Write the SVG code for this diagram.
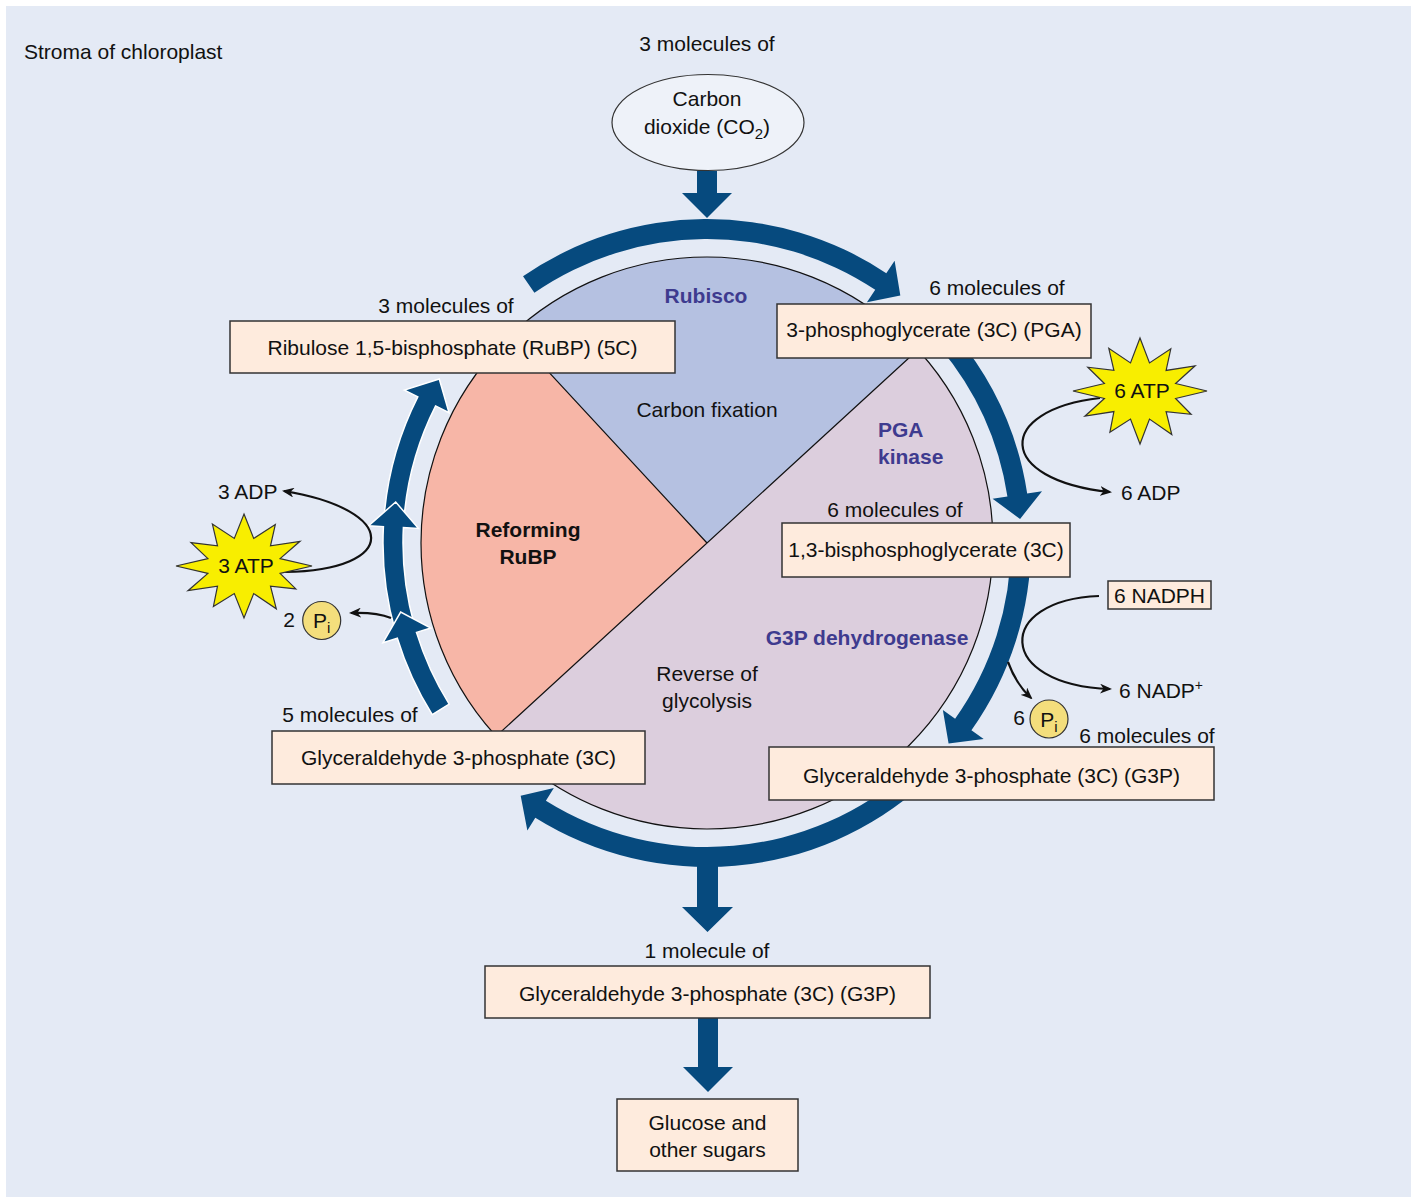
<svg xmlns="http://www.w3.org/2000/svg" width="1411" height="1197" viewBox="0 0 1411 1197">
<defs>
<style>
text{font-family:"Liberation Sans",Arial,Helvetica,sans-serif;font-size:21px;fill:#111}
.m{text-anchor:middle}
.b{font-weight:bold}
.enz{font-weight:bold;fill:#3e3b8f}
.box{fill:#feebdd;stroke:#333;stroke-width:1.5}
.big{fill:#064a7e}
.bigw{fill:#064a7e;stroke:#fff;stroke-width:1.5;stroke-linejoin:miter}
.thin{fill:none;stroke:#111;stroke-width:2.2}
.star{fill:#f8ee00;stroke:#333;stroke-width:1.2;stroke-linejoin:miter}
.pi{fill:#f4de7c;stroke:#333;stroke-width:1.2}
.edge{fill:none;stroke:#111;stroke-width:1.2}
</style>
<marker id="ah" markerUnits="userSpaceOnUse" markerWidth="12" markerHeight="10" refX="10" refY="5" orient="auto">
<path d="M0,0 L12,5 L0,10 L3.5,5 Z" fill="#111"/>
</marker>
</defs>

<rect id="background" x="6" y="6" width="1405" height="1191" fill="#e4eaf5"/>
<text id="stroma" x="24" y="59">Stroma of chloroplast</text>

<g id="cycle-circle">
<circle cx="707" cy="543" r="286" fill="#dccedd"/>
<path d="M707,543 L496.14,736.22 A286,286 0 0 1 512.68,333.15 Z" fill="#f7b6a7"/>
<path d="M707,543 L512.68,333.15 A286,286 0 0 1 917.86,349.78 Z" fill="#b5c1e1"/>
<circle class="edge" cx="707" cy="543" r="286"/>
<path class="edge" d="M917.86,349.78 L496.14,736.22 M707,543 L512.68,333.15"/>
</g>

<g id="connectors">
<path class="big" d="M697,171 L717,171 L717,193 L732,193 L707,218 L682,193 L697,193 Z"/>
<path class="big" d="M523.03,276.32 A324,324 0 0 1 886.30,273.14 L894.60,260.65 L900.32,295.57 L866.93,302.29 L875.23,289.80 A304,304 0 0 0 534.39,292.78 Z"/>
<path class="big" d="M955.19,334.73 A324,324 0 0 1 1027.19,493.43 L1042.01,491.14 L1020.07,518.91 L992.60,498.79 L1007.42,496.49 A304,304 0 0 0 939.88,347.59 Z"/>
<path class="big" d="M1031,543 A324,324 0 0 1 971.43,730.23 L983.67,738.89 L948.59,743.57 L942.86,710.00 L955.11,718.67 A304,304 0 0 0 1011,543 Z"/>
<path class="big" d="M923.80,783.78 A324,324 0 0 1 535.31,817.77 L527.36,830.49 L520.67,795.74 L553.85,788.09 L545.90,800.81 A304,304 0 0 0 910.42,768.91 Z"/>
<path class="big" d="M697,855 L718,855 L718,907 L733,907 L707.5,932 L682,907 L697,907 Z"/>
<path class="bigw" d="M383.79,520.40 A324,324 0 0 1 417.80,396.91 L404.41,390.15 L439.27,378.93 L449.04,412.70 L435.65,405.93 A304,304 0 0 0 403.74,521.79 Z"/>
<path class="bigw" d="M395.55,632.31 A324,324 0 0 1 383.41,526.61 L368.43,525.85 L395.69,502.01 L418.37,528.38 L403.39,527.62 A304,304 0 0 0 414.78,626.79 Z"/>
<path class="bigw" d="M432.23,714.69 A324,324 0 0 1 397.32,638.27 L382.99,642.68 L400.68,612.03 L430.78,627.98 L416.44,632.39 A304,304 0 0 0 449.19,704.10 Z"/>
<path class="big" d="M698,1018 L718,1018 L718,1067 L733,1067 L708,1092 L683,1067 L698,1067 Z"/>
<path class="thin" d="M1100,398 C995,410 995,480 1110,492" marker-end="url(#ah)"/>
<path class="thin" d="M1099,596 C995,600 995,685 1110,689" marker-end="url(#ah)"/>
<path class="thin" d="M1008,662 Q1016,684 1031,698" marker-end="url(#ah)"/>
<path class="thin" d="M285,572 C400,570 400,510 284,491" marker-end="url(#ah)"/>
<path class="thin" d="M391,618 Q376,612 351,613" marker-end="url(#ah)"/>
</g>

<g id="co2">
<text class="m" x="707" y="51">3 molecules of</text>
<ellipse cx="708" cy="122.5" rx="96" ry="48" fill="#eef2f9" stroke="#333" stroke-width="1.2"/>
<text class="m" x="707" y="106">Carbon</text>
<text class="m" x="707" y="134">dioxide (CO<tspan font-size="15" dy="5">2</tspan><tspan dy="-5">)</tspan></text>
</g>

<g id="labels-circle">
<text class="m enz" x="706" y="303">Rubisco</text>
<text class="m" x="707" y="417">Carbon fixation</text>
<text class="enz" x="878" y="437">PGA</text>
<text class="enz" x="878" y="464">kinase</text>
<text class="m b" x="528" y="537">Reforming</text>
<text class="m b" x="528" y="564">RuBP</text>
<text class="m enz" x="867" y="645">G3P dehydrogenase</text>
<text class="m" x="707" y="681">Reverse of</text>
<text class="m" x="707" y="708">glycolysis</text>
</g>

<g id="rubp">
<text class="m" x="446" y="313">3 molecules of</text>
<rect class="box" x="230" y="321" width="445" height="52"/>
<text class="m" x="452.5" y="355">Ribulose 1,5-bisphosphate (RuBP) (5C)</text>
</g>

<g id="pga">
<text class="m" x="997" y="295">6 molecules of</text>
<rect class="box" x="777" y="304" width="314" height="54"/>
<text class="m" x="934" y="337">3-phosphoglycerate (3C) (PGA)</text>
</g>

<g id="atp6">
<polygon class="star" points="1140,338 1149.5,362.9 1170.8,348.8 1166.1,370.4 1195.1,365.8 1175.6,383.5 1207,391 1175.6,398.5 1191.1,414.3 1166.1,411.6 1171.8,434.6 1149.5,419.1 1140,444 1130.5,419.1 1109.9,432.3 1113.9,411.6 1084.9,416.2 1104.4,398.5 1073,391 1104.4,383.5 1087.8,367.2 1113.9,370.4 1108.8,348.3 1130.5,362.9"/>
<text class="m" x="1142" y="398">6 ATP</text>
</g>
<text id="adp6" x="1121" y="500">6 ADP</text>

<g id="bpg">
<text class="m" x="895" y="517">6 molecules of</text>
<rect class="box" x="782" y="523" width="288" height="54"/>
<text class="m" x="926" y="557">1,3-bisphosphoglycerate (3C)</text>
</g>

<g id="nadph">
<rect class="box" x="1108" y="581" width="103" height="28"/>
<text class="m" x="1159.5" y="603">6 NADPH</text>
</g>
<text id="nadp6" x="1119" y="698">6 NADP<tspan font-size="14" dy="-8">+</tspan></text>

<g id="pi6">
<text class="m" x="1019" y="725">6</text>
<circle class="pi" cx="1049" cy="719" r="19"/>
<text class="m" x="1049" y="727">P<tspan font-size="15" dy="5">i</tspan></text>
</g>

<g id="g3p6">
<text class="m" x="1147" y="743">6 molecules of</text>
<rect class="box" x="769" y="747" width="445" height="53"/>
<text class="m" x="991.5" y="783">Glyceraldehyde 3-phosphate (3C) (G3P)</text>
</g>

<g id="atp3">
<polygon class="star" points="244,514 253.7,538.4 275.3,524.6 270.5,545.8 300,541.3 280.1,558.6 312,566 280.1,573.4 295.8,588.9 270.5,586.2 276.3,608.8 253.7,593.6 244,618 234.3,593.6 213.4,606.5 217.5,586.2 188,590.7 207.9,573.4 176,566 207.9,558.6 191,542.6 217.5,545.8 212.4,524.1 234.3,538.4"/>
<text class="m" x="246" y="573">3 ATP</text>
</g>
<text id="adp3" x="218" y="499">3 ADP</text>

<g id="pi2">
<text class="m" x="289" y="627">2</text>
<circle class="pi" cx="321.7" cy="620.5" r="19"/>
<text class="m" x="321.7" y="628">P<tspan font-size="15" dy="5">i</tspan></text>
</g>

<g id="g3p5">
<text class="m" x="350" y="722">5 molecules of</text>
<rect class="box" x="272" y="731" width="373" height="53"/>
<text class="m" x="458.5" y="765">Glyceraldehyde 3-phosphate (3C)</text>
</g>

<g id="g3p1">
<text class="m" x="707" y="958">1 molecule of</text>
<rect class="box" x="485" y="966" width="445" height="52"/>
<text class="m" x="707.5" y="1001">Glyceraldehyde 3-phosphate (3C) (G3P)</text>
</g>

<g id="glucose">
<rect class="box" x="617" y="1099" width="181" height="72"/>
<text class="m" x="707.5" y="1130">Glucose and</text>
<text class="m" x="707.5" y="1157">other sugars</text>
</g>
</svg>
